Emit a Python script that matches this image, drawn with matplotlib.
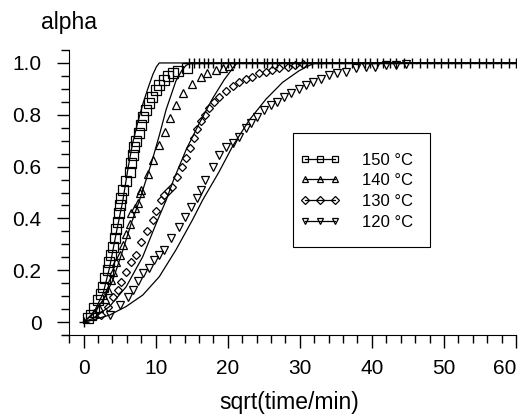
import numpy as np
import matplotlib
matplotlib.use("Agg")
import matplotlib.pyplot as plt
from matplotlib.ticker import MultipleLocator, FixedLocator
from matplotlib.lines import Line2D
from matplotlib.patches import Rectangle
from matplotlib.legend_handler import HandlerLine2D

plt.rcParams['font.family'] = ['Liberation Sans', 'DejaVu Sans']

# --- dados medidos (pontos) ---
x150 = [0.6, 1.06, 1.5, 1.98, 2.45, 2.7, 2.9, 3.37, 3.5, 3.8, 4.06, 4.3, 4.5, 4.75, 4.9,
        5.0, 5.2, 5.45, 5.9, 6.37, 6.6, 6.83, 7.05, 7.3, 7.65, 8.0, 8.3, 8.68, 9.1, 9.5,
        10.0, 10.5, 11.1, 11.7, 12.4, 13.1, 14.3]
y150 = [0.014, 0.027, 0.053, 0.085, 0.11, 0.136, 0.17, 0.20, 0.233, 0.26, 0.29, 0.323, 0.36, 0.387, 0.42,
        0.452, 0.477, 0.51, 0.545, 0.58, 0.615, 0.645, 0.675, 0.70, 0.73, 0.76, 0.79, 0.82, 0.845, 0.87,
        0.895, 0.915, 0.935, 0.95, 0.963, 0.97, 0.98]

x140 = [1.5, 2.2, 2.9, 3.37, 3.8, 4.06, 4.5, 5.0, 5.45, 5.9, 6.37, 6.6, 7.1, 7.5, 7.76,
        8.0, 8.9, 9.6, 10.5, 11.36, 12.0, 12.8, 13.85, 15.0, 16.3, 17.1, 18.4, 19.3, 20.2]
y140 = [0.034, 0.053, 0.09, 0.124, 0.162, 0.194, 0.233, 0.26, 0.297, 0.34, 0.38, 0.42, 0.44, 0.458, 0.497,
        0.51, 0.57, 0.625, 0.683, 0.735, 0.786, 0.838, 0.883, 0.917, 0.947, 0.96, 0.973, 0.98, 0.99]

x130 = [2.45, 3.37, 4.06, 4.75, 5.2, 5.9, 6.6, 7.3, 8.0, 8.77, 9.6, 10.06, 10.76, 11.2, 11.7,
        12.2, 13.0, 13.6, 14.2, 14.8, 15.3, 15.8, 16.3, 16.9, 17.45, 18.1, 18.8, 19.8, 20.7,
        21.6, 22.5, 23.4, 24.4, 25.3, 26.2, 27.1, 28.3, 29.4, 30.5]
y130 = [0.027, 0.06, 0.098, 0.124, 0.155, 0.194, 0.233, 0.26, 0.31, 0.35, 0.394, 0.43, 0.47, 0.49, 0.505,
        0.52, 0.56, 0.60, 0.635, 0.67, 0.71, 0.745, 0.775, 0.80, 0.825, 0.85, 0.87, 0.89, 0.91,
        0.928, 0.94, 0.947, 0.96, 0.966, 0.973, 0.98, 0.986, 0.992, 0.995]

x120 = [3.6, 5.0, 6.14, 6.8, 7.5, 8.3, 9.1, 9.8, 10.5, 11.2, 12.1, 13.3, 14.0, 14.9, 15.7,
        16.3, 16.9, 17.9, 18.8, 19.8, 20.7, 21.6, 22.5, 23.2, 24.1, 25.1, 26.0, 26.9, 27.8,
        28.8, 29.9, 30.8, 31.8, 32.9, 34.1, 35.2, 36.4, 37.8, 39.2, 40.5, 41.9, 43.3, 44.7]
y120 = [0.027, 0.066, 0.098, 0.125, 0.16, 0.19, 0.21, 0.24, 0.26, 0.28, 0.323, 0.368, 0.406, 0.445, 0.477,
        0.51, 0.55, 0.60, 0.645, 0.677, 0.69, 0.716, 0.748, 0.767, 0.79, 0.82, 0.838, 0.85, 0.87,
        0.883, 0.90, 0.915, 0.928, 0.94, 0.953, 0.96, 0.966, 0.98, 0.986, 0.986, 0.992, 0.992, 0.995]

# pontos "+" (alpha = 1 e origem)
x_mais = [0.0, 14.6, 15.3, 16.0, 16.7, 17.3, 18.0, 19.0, 20.0, 20.8, 21.6, 22.5, 23.4, 24.1, 25.0,
          25.5, 26.2, 26.9, 27.8, 28.5, 29.5, 30.3, 31.0, 31.7, 32.5, 33.0, 33.7, 34.5, 35.5,
          36.3, 37.2, 38.1, 39.0, 39.8, 40.7, 41.6, 42.5, 43.4, 44.4, 45.5, 46.7, 47.7, 48.6,
          49.6, 50.5, 51.5, 52.4, 53.6, 54.8, 55.8, 56.8, 57.9, 59.0, 60.0]
y_mais = [0.0] + [1.0] * (len(x_mais) - 1)

# --- curvas do modelo ---
xm150 = [0, 1.3, 2.7, 3.6, 4.5, 5.45, 6.2, 6.8, 7.5, 8.2, 8.9, 9.6, 10.1, 10.5, 60]
ym150 = [0, 0.03, 0.11, 0.21, 0.34, 0.47, 0.60, 0.69, 0.77, 0.84, 0.90, 0.955, 0.985, 1.0, 1.0]

xm140 = [0, 1.3, 2.7, 4.06, 5.45, 6.6, 7.76, 9.4, 10.5, 11.45, 12.8, 13.6, 14.2, 14.8, 60]
ym140 = [0, 0.034, 0.085, 0.162, 0.278, 0.38, 0.47, 0.613, 0.72, 0.82, 0.93, 0.97, 0.99, 1.0, 1.0]

xm130 = [0, 1.3, 3.6, 5.9, 8.2, 10.06, 11.45, 12.5, 14.3, 16.1, 17.9, 19.5, 20.7, 21.3, 60]
ym130 = [0, 0.014, 0.06, 0.136, 0.252, 0.38, 0.47, 0.55, 0.67, 0.77, 0.863, 0.935, 0.98, 1.0, 1.0]

xm120 = [0, 1.3, 3.6, 5.9, 8.2, 10.5, 12.8, 15.1, 16.5, 18.8, 20.7, 23.0, 25.3, 27.6, 29.9, 31.3, 32.2, 60]
ym120 = [0, 0.008, 0.027, 0.06, 0.104, 0.175, 0.278, 0.394, 0.47, 0.58, 0.68, 0.78, 0.86, 0.925, 0.97, 0.99, 1.0, 1.0]

rotulos = ['150 °C', '140 °C', '130 °C', '120 °C']
marcadores = ['s', '^', 'D', 'v']
tamanhos = [6.5, 6, 4.5, 6]
xticks = [0, 10, 20, 30, 40, 50, 60]
yticks = [0, 0.2, 0.4, 0.6, 0.8, 1.0]
ytick_labels = ['0', '0.2', '0.4', '0.6', '0.8', '1.0']

W, H = 519, 416
fig = plt.figure(figsize=(W / 100, H / 100), dpi=100)
# eixo de -3 a 60 (px 62 a 516), y de -0.05 a 1.05 (px 335 a 50)
ax = fig.add_axes([62 / W, 81 / H, 454 / W, 285 / H])

for xm, ym in [(xm150, ym150), (xm140, ym140), (xm130, ym130), (xm120, ym120)]:
    ax.plot(xm, ym, color='black', lw=0.9, zorder=2)

series = [(x150, y150), (x140, y140), (x130, y130), (x120, y120)]
for (xs, ys), mk, ms in zip(series, marcadores, tamanhos):
    ax.plot(xs, ys, linestyle='none', marker=mk, ms=ms, mfc='none', mec='black', mew=0.9, zorder=3)

ax.plot(x_mais, y_mais, linestyle='none', marker='+', ms=7, mec='black', mew=1.0, zorder=4)

ax.set_xlim(-3, 60)
ax.set_ylim(-0.05, 1.05)
ax.spines['top'].set_visible(False)
ax.spines['right'].set_visible(False)
ax.spines['left'].set_position(('data', -2))
ax.spines['left'].set_bounds(-0.05, 1.05)

ax.set_xticks(xticks)
ax.set_xticklabels([str(v) for v in xticks])
ax.get_xticklabels()[-1].set_ha('right')
ax.xaxis.set_minor_locator(FixedLocator(np.arange(-2, 61, 2)))
ax.set_yticks(yticks)
ax.set_yticklabels(ytick_labels)
ax.yaxis.set_minor_locator(MultipleLocator(0.05))

ax.tick_params(axis='both', which='major', length=9, width=1, labelsize=15, direction='out')
ax.tick_params(axis='both', which='minor', length=5.5, width=1, direction='out')
ax.tick_params(axis='y', which='major', pad=11)
ax.tick_params(axis='x', which='major', pad=8.5)

ax.set_xlabel('sqrt(time/min)', fontsize=16.5, labelpad=9.5)
fig.text(69 / W, 1 - 23 / H, 'alpha', fontsize=16.5, ha='center', va='center')

# legenda sem moldura + moldura desenhada à parte
handles = [Line2D([], [], color='black', lw=0.9, marker=mk, ms=4.5, mfc='none', mec='black', mew=0.9)
           for mk in marcadores]
leg = ax.legend(handles, rotulos, loc='center left', bbox_to_anchor=(0.513, 0.505),
                numpoints=3, handlelength=3.0, fontsize=12, frameon=False,
                borderpad=0, borderaxespad=0, labelspacing=0.34, handletextpad=1.0,
                handler_map={Line2D: HandlerLine2D(marker_pad=0.6)})
ax.add_patch(Rectangle((0.509, 0.309), 0.301, 0.40, transform=ax.transAxes,
                       fill=False, edgecolor='black', lw=0.8, zorder=5))

fig.savefig('out.png', dpi=100)
